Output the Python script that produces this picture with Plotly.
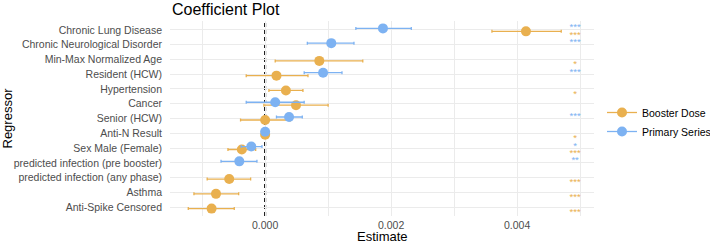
import plotly.graph_objects as go

regressors = [
    "Chronic Lung Disease",
    "Chronic Neurological Disorder",
    "Min-Max Normalized Age",
    "Resident (HCW)",
    "Hypertension",
    "Cancer",
    "Senior (HCW)",
    "Anti-N Result",
    "Sex Male (Female)",
    "predicted infection (pre booster)",
    "predicted infection (any phase)",
    "Asthma",
    "Anti-Spike Censored",
]

# Booster Dose (estimates, lower, upper) in units of 1e-3
booster_est = [4.14, None, 0.86, 0.18, 0.33, 0.49, 0.00, 0.00, -0.37, None, -0.57, -0.78, -0.85]
booster_lo = [3.60, None, 0.16, -0.30, 0.06, -0.02, -0.39, -0.01, -0.59, None, -0.92, -1.13, -1.22]
booster_hi = [4.70, None, 1.55, 0.68, 0.60, 1.00, 0.40, 0.01, -0.15, None, -0.23, -0.42, -0.49]
booster_sig = ["***", "", "*", "", "*", "", "", "*", "***", "", "***", "***", "***"]

# Primary Series
primary_est = [1.87, 1.05, None, 0.92, None, 0.16, 0.38, 0.00, -0.22, -0.41, None, None, None]
primary_lo = [1.44, 0.67, None, 0.62, None, -0.30, 0.18, -0.01, -0.38, -0.70, None, None, None]
primary_hi = [2.32, 1.41, None, 1.22, None, 0.62, 0.59, 0.01, -0.05, -0.13, None, None, None]
primary_sig = ["***", "***", "", "***", "", "", "***", "", "*", "**", "", "", ""]

x_ticks = [-0.001, 0.0, 0.001, 0.002, 0.003, 0.004, 0.005]
x_tick_labels = ["", "0.000", "", "0.002", "", "0.004", ""]

ORANGE = "#E9B04F"
BLUE = "#7DB2F2"
FONT = "Liberation Sans, Arial, sans-serif"

n = len(regressors)
rows = [n - 1 - i for i in range(n)]  # top row = highest value


def series(est, lo, hi, offset):
    xs, ys, ep, em = [], [], [], []
    for e, l, h, r in zip(est, lo, hi, rows):
        if e is None:
            continue
        xs.append(e * 1e-3)
        ys.append(r + offset)
        ep.append((h - e) * 1e-3)
        em.append((e - l) * 1e-3)
    return xs, ys, ep, em


fig = go.Figure()

# dashed zero line
fig.add_vline(x=0, line=dict(color="black", width=2, dash="4px,3px"), layer="below")

for name, est, lo, hi, color, off in [
    ("Booster Dose", booster_est, booster_lo, booster_hi, ORANGE, -0.1),
    ("Primary Series", primary_est, primary_lo, primary_hi, BLUE, 0.1),
]:
    xs, ys, ep, em = series(est, lo, hi, off)
    fig.add_trace(go.Scatter(
        x=xs, y=ys, mode="markers", name=name, showlegend=False,
        marker=dict(color=color, size=10, line=dict(width=0)),
        error_x=dict(type="data", symmetric=False, array=ep, arrayminus=em,
                     color=color, thickness=1.3, width=1.5),
    ))

# significance stars
star_x = 0.00492
for sig, color, off in [(booster_sig, ORANGE, -0.36), (primary_sig, BLUE, 0.12)]:
    xs, ys, ts = [], [], []
    for s, r in zip(sig, rows):
        if s:
            xs.append(star_x)
            ys.append(r + off)
            ts.append(s)
    fig.add_trace(go.Scatter(
        x=xs, y=ys, text=ts, mode="text", showlegend=False,
        textfont=dict(color=color, size=9.5, family=FONT), hoverinfo="skip",
    ))

# legend entries
for name, color in [("Booster Dose", ORANGE), ("Primary Series", BLUE)]:
    fig.add_trace(go.Scatter(
        x=[None], y=[None], mode="lines+markers", name=name,
        marker=dict(color=color, size=10), line=dict(color=color, width=1.3),
    ))

fig.update_layout(
    width=710, height=244,
    margin=dict(l=170, r=116, t=21, b=28, autoexpand=False),
    plot_bgcolor="white", paper_bgcolor="white",
    font=dict(family=FONT, color="black"),
    xaxis=dict(
        range=[-0.00151, 0.00522], tickvals=x_ticks, ticktext=x_tick_labels,
        showgrid=True, gridcolor="#EBEBEB", gridwidth=1, zeroline=False,
        tickfont=dict(size=10.5, color="#4D4D4D", family=FONT), ticks="", showline=False,
        ticklabelstandoff=1, automargin=False,
    ),
    yaxis=dict(
        range=[-0.6, n - 1 + 0.6], tickvals=rows, ticktext=regressors,
        showgrid=True, gridcolor="#EBEBEB", gridwidth=1, zeroline=False,
        tickfont=dict(size=10.5, color="#4D4D4D", family=FONT), ticks="", showline=False,
        ticklabelstandoff=7, automargin=False,
    ),
    legend=dict(xref="container", yref="container", x=602 / 710, xanchor="left",
                y=0.5, yanchor="middle",
                font=dict(size=10.5, color="black", family=FONT),
                bgcolor="rgba(0,0,0,0)", tracegroupgap=0),
    annotations=[
        dict(text="Regressor", textangle=-90, xref="paper", yref="paper",
             x=(7 - 170) / 424, xanchor="center", y=0.5, yanchor="middle", showarrow=False,
             font=dict(size=13, color="black", family=FONT)),
        dict(text="Coefficient Plot", xref="paper", yref="paper",
             x=0, xanchor="left", y=1 + (21 - 10) / 195, yanchor="middle", showarrow=False,
             font=dict(size=16, color="black", family=FONT)),
        dict(text="Estimate", xref="paper", yref="paper",
             x=0.5, xanchor="center", y=-(236 - 216) / 195, yanchor="middle", showarrow=False,
             font=dict(size=13, color="black", family=FONT)),
    ],
)

fig.write_html(
    "out.html",
    config={"displayModeBar": False},
    post_script="document.body.style.margin='0';document.body.style.overflow='hidden';",
)
